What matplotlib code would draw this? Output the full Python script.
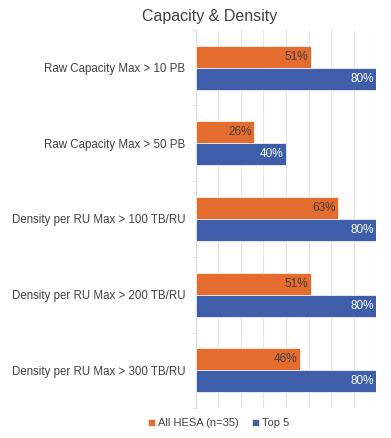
import matplotlib.pyplot as plt
import numpy as np

plt.rcParams['font.family'] = ['Liberation Sans', 'DejaVu Sans']

categories = ["Raw Capacity Max > 10 PB", "Raw Capacity Max > 50 PB",
              "Density per RU Max > 100 TB/RU", "Density per RU Max > 200 TB/RU",
              "Density per RU Max > 300 TB/RU"]
all_hesa = [51, 26, 63, 51, 46]
top5 = [80, 40, 80, 80, 80]

orange = '#E46C2E'
blue = '#3F5EA9'
grey = '#404040'

fig = plt.figure(figsize=(3.91, 4.38), dpi=100)
ax = fig.add_axes([0.501, 0.068, 0.461, 0.864])

y = np.arange(len(categories))
h = 0.29
b1 = ax.barh(y - h / 2, all_hesa, height=h, color=orange, edgecolor='white', linewidth=0.5,
             label='All HESA (n=35)', zorder=3)
b2 = ax.barh(y + h / 2, top5, height=h, color=blue, edgecolor='white', linewidth=0.5,
             label='Top 5', zorder=3)

for bar, v in zip(b1, all_hesa):
    ax.text(v - 1, bar.get_y() + bar.get_height() / 2, f"{v}%", ha='right', va='center',
            fontsize=8.5, color=grey, zorder=4)
for bar, v in zip(b2, top5):
    ax.text(v - 1, bar.get_y() + bar.get_height() / 2, f"{v}%", ha='right', va='center',
            fontsize=8.5, color='white', zorder=4)

ax.set_xlim(0, 80)
ax.set_ylim(len(categories) - 0.5, -0.5)
ax.set_xticks(np.arange(0, 81, 10))
ax.set_xticklabels([])
ax.tick_params(axis='x', length=0)
ax.set_yticks(y)
ax.set_yticklabels(categories, fontsize=8.3, color=grey)
ax.set_yticks(np.arange(-0.5, len(categories)), minor=True)
ax.tick_params(axis='y', which='major', length=0, pad=7.5)
ax.tick_params(axis='y', which='minor', length=3, color='#d9d9d9')
ax.grid(axis='x', color='#e6e6e6', linewidth=0.8, zorder=0)
for s in ['top', 'right', 'bottom']:
    ax.spines[s].set_visible(False)
ax.spines['left'].set_color('#d9d9d9')

fig.text(0.537, 0.962, "Capacity & Density", ha='center', va='center', fontsize=11.5, color=grey)
fig.legend(handles=[b1, b2], loc='center', bbox_to_anchor=(0.56, 0.034), ncol=2, frameon=False,
           fontsize=8, handlelength=0.6, handleheight=0.6, handletextpad=0.3, columnspacing=1.2,
           labelcolor=grey)

fig.savefig('out.png', dpi=100)
